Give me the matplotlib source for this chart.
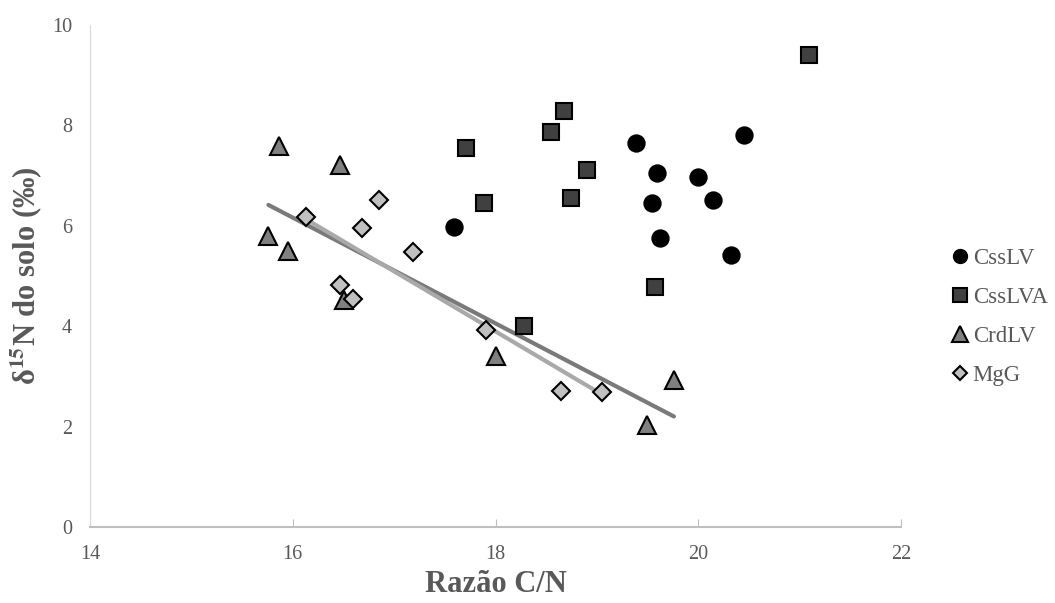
import numpy as np
import matplotlib.pyplot as plt
from matplotlib.lines import Line2D

plt.rcParams["font.family"] = ["Liberation Serif", "DejaVu Serif"]
plt.rcParams["mathtext.fontset"] = "stix"

# CssLV
csslv_x = [17.59, 19.39, 19.59, 19.54, 19.62, 20.00, 20.15, 20.32, 20.45]
csslv_y = [5.98, 7.65, 7.05, 6.45, 5.76, 6.97, 6.51, 5.42, 7.81]
# CssLVA
csslva_x = [17.71, 17.89, 18.55, 18.68, 18.90, 18.74, 19.57, 18.28, 21.09]
csslva_y = [7.55, 6.45, 7.87, 8.29, 7.11, 6.55, 4.78, 4.00, 9.40]
# CrdLV
crdlv_x = [15.86, 16.47, 15.76, 15.95, 16.51, 18.00, 19.49, 19.76]
crdlv_y = [7.59, 7.21, 5.80, 5.50, 4.52, 3.40, 2.03, 2.93]
# MgG
mgg_x = [16.13, 16.85, 16.68, 17.19, 16.47, 16.59, 17.91, 18.65, 19.05]
mgg_y = [6.18, 6.51, 5.96, 5.48, 4.82, 4.54, 3.93, 2.71, 2.69]

gray_txt = "#595959"
axis_col = "#bfbfbf"

fig = plt.figure(figsize=(10.55, 6.03), dpi=100)
ax = fig.add_axes([90 / 1055, 1 - 527 / 603, 811 / 1055, 502 / 603])

# linear trendlines (CrdLV and MgG)
for xs, ys, col in [(crdlv_x, crdlv_y, "#7a7a7a"), (mgg_x, mgg_y, "#a9a9a9")]:
    m, b = np.polyfit(xs, ys, 1)
    xx = np.array([min(xs), max(xs)])
    ax.plot(xx, m * xx + b, color=col, lw=3, solid_capstyle="round", zorder=2)

ms = 12
ax.plot(csslv_x, csslv_y, "o", ms=ms, mfc="black", mec="black", mew=1.2, zorder=3)
ax.plot(csslva_x, csslva_y, "s", ms=ms, mfc="#404040", mec="black", mew=1.5, zorder=3)
ax.plot(crdlv_x, crdlv_y, "^", ms=12.5, mfc="#808080", mec="black", mew=1.5, zorder=3)
ax.plot(mgg_x, mgg_y, "D", ms=9, mfc="#c0c0c0", mec="black", mew=1.5, zorder=3)

ax.set_xlim(14, 22)
ax.set_ylim(0, 10)
ax.set_xticks([14, 16, 18, 20, 22])
ax.set_yticks([0, 2, 4, 6, 8, 10])
ax.tick_params(direction="in", length=6, color=axis_col, labelsize=14.5,
               labelcolor=gray_txt, pad=13)
ax.tick_params(axis="y", length=0, pad=13)

for s in ["top", "right"]:
    ax.spines[s].set_visible(False)
ax.spines["left"].set_color("#d9d9d9")
ax.spines["bottom"].set_color(axis_col)
ax.spines["bottom"].set_linewidth(1.5)

ax.set_xlabel("Razão C/N", fontsize=22, fontweight="bold", color=gray_txt)
ax.xaxis.set_label_coords(0.5, -0.086)
ax.set_ylabel(r"δ$^{\mathbf{15}}$N do solo (‰)", fontsize=22,
              fontweight="bold", color=gray_txt)
ax.yaxis.set_label_coords(-0.056, 0.5)

handles = [
    Line2D([], [], ls="", marker="o", ms=10, mfc="black", mec="black"),
    Line2D([], [], ls="", marker="s", ms=10.5, mfc="#404040", mec="black", mew=1.5),
    Line2D([], [], ls="", marker="^", ms=11, mfc="#808080", mec="black", mew=1.5),
    Line2D([], [], ls="", marker="D", ms=7.5, mfc="#c0c0c0", mec="black", mew=1.5),
]
leg = fig.legend(handles, ["CssLV", "CssLVA", "CrdLV", "MgG"],
                 loc="center left", bbox_to_anchor=(951 / 1055, 1 - 317 / 603),
                 frameon=False, fontsize=16.5, handlelength=0.8,
                 handletextpad=0.15, labelspacing=0.78,
                 borderpad=0, borderaxespad=0)
for t in leg.get_texts():
    t.set_color(gray_txt)

plt.savefig("out.png", dpi=100)
plt.close()
